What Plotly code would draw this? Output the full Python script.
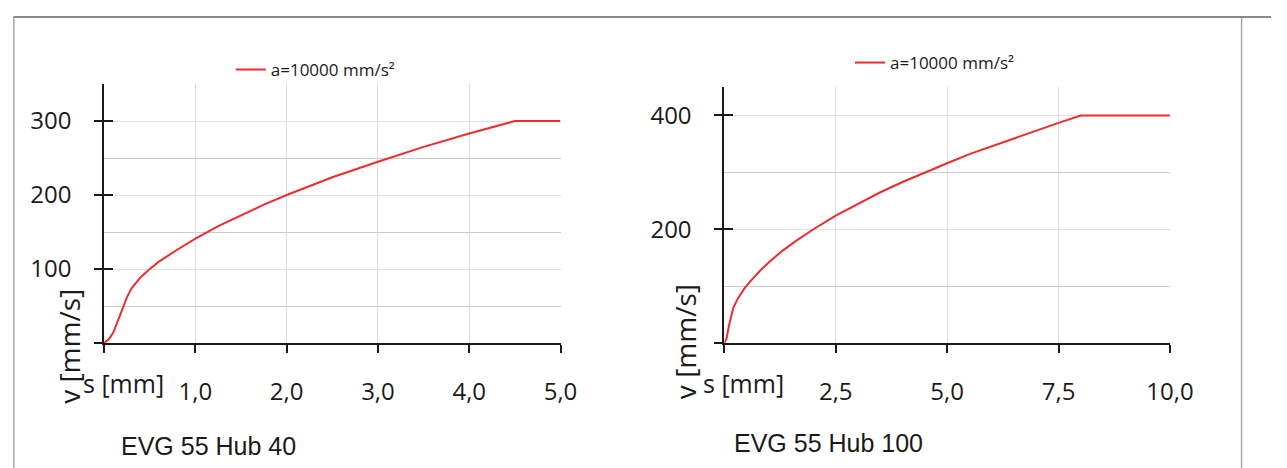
import plotly.graph_objects as go

W, H = 1287, 468

# ---- data ----
s_hub40 = [0, 0.05, 0.1, 0.15, 0.2, 0.25, 0.3, 0.4, 0.5, 0.6, 0.8, 1.0, 1.25, 1.5, 1.75,
           2.0, 2.5, 3.0, 3.5, 4.0, 4.5, 5.0]
v_hub40 = [0, 5, 14, 30, 48, 62, 74, 89, 100, 110, 126, 141, 158, 173, 187,
           200, 224, 245, 265, 283, 300, 300]

s_hub100 = [0, 0.05, 0.1, 0.2, 0.3, 0.45, 0.6, 0.8, 1.0, 1.3, 1.6, 2.0, 2.5, 3.0, 3.5,
            4.0, 4.5, 5.0, 5.5, 6.0, 6.5, 7.0, 7.5, 8.0, 10.0]
v_hub100 = [0, 8, 30, 62, 78, 96, 110, 127, 142, 162, 179, 200, 224, 245, 265,
            283, 300, 316, 332, 346, 360, 374, 387, 400, 400]

series_name = "a=10000 mm/s²"
titles = ["EVG 55 Hub 40", "EVG 55 Hub 100"]
x_title = "s [mm]"
y_title = "v [mm/s]"

x1_ticks = [0, 1, 2, 3, 4, 5]
x1_text = ["", "1,0", "2,0", "3,0", "4,0", "5,0"]
y1_ticks = [0, 100, 200, 300]
y1_text = ["", "100", "200", "300"]
y1_minor = [50, 150, 250, 350]
y1_range = [0, 350]

x2_ticks = [0, 2.5, 5, 7.5, 10]
x2_text = ["", "2,5", "5,0", "7,5", "10,0"]
y2_ticks = [0, 200, 400]
y2_text = ["", "200", "400"]
y2_minor = [100, 300]
y2_range = [0, 450]

RED = "#ef2b2f"
INK = "#1a1a1a"
FONT = "Open Sans"


def px(x):
    return x / W


def py(y):
    return 1 - y / H


fig = go.Figure()
fig.add_trace(go.Scatter(x=s_hub40, y=v_hub40, mode="lines", name=series_name,
                         line=dict(color=RED, width=2),
                         xaxis="x", yaxis="y", legend="legend"))
fig.add_trace(go.Scatter(x=s_hub100, y=v_hub100, mode="lines", name=series_name,
                         line=dict(color=RED, width=2),
                         xaxis="x2", yaxis="y2", legend="legend2"))
# invisible helpers so the tick-only overlay axes are drawn
fig.add_trace(go.Scatter(x=[s_hub40[0]], y=[v_hub40[0]], mode="markers",
                         marker=dict(opacity=0), xaxis="x", yaxis="y3",
                         showlegend=False, hoverinfo="skip"))
fig.add_trace(go.Scatter(x=[s_hub100[0]], y=[v_hub100[0]], mode="markers",
                         marker=dict(opacity=0), xaxis="x2", yaxis="y4",
                         showlegend=False, hoverinfo="skip"))

tickfont = dict(family=FONT, size=24, color=INK)

common_x = dict(showline=True, linecolor=INK, linewidth=2, ticks="outside",
                ticklen=8, tickwidth=2, tickcolor=INK, tickfont=tickfont,
                showgrid=True, gridcolor="#dedede", gridwidth=1, zeroline=False,
                ticklabelstandoff=18, fixedrange=True)
common_y = dict(showline=True, linecolor=INK, linewidth=2, ticks="outside",
                ticklen=8, tickwidth=2, tickcolor=INK, tickfont=tickfont,
                showgrid=True, gridcolor="#e2e2e2", gridwidth=1, zeroline=False,
                ticklabelstandoff=18, fixedrange=True)
inner_ticks = dict(side="left", tickmode="array", showticklabels=False,
                   ticks="inside", ticklen=9, tickwidth=2, tickcolor=INK,
                   showgrid=False, showline=False, zeroline=False, fixedrange=True)

fig.update_layout(
    width=W, height=H,
    margin=dict(l=0, r=0, t=0, b=0),
    paper_bgcolor="white", plot_bgcolor="white",
    font=dict(family=FONT, color=INK),
    xaxis=dict(domain=[px(98), px(563)], range=[0, 5], anchor="y",
               tickmode="array", tickvals=x1_ticks, ticktext=x1_text, **common_x),
    yaxis=dict(domain=[py(335), py(76)], range=y1_range, anchor="x",
               tickmode="array", tickvals=y1_ticks, ticktext=y1_text,
               minor=dict(tickvals=y1_minor, showgrid=True, gridcolor="#cdcdcd",
                          ticks=""),
               **common_y),
    yaxis3=dict(overlaying="y", anchor="x", range=y1_range, tickvals=y1_ticks,
                **inner_ticks),
    xaxis2=dict(domain=[px(730), px(1184)], range=[0, 10], anchor="y2",
                tickmode="array", tickvals=x2_ticks, ticktext=x2_text, **common_x),
    yaxis2=dict(domain=[py(335), py(79)], range=y2_range, anchor="x2",
                tickmode="array", tickvals=y2_ticks, ticktext=y2_text,
                minor=dict(tickvals=y2_minor, showgrid=True, gridcolor="#cdcdcd",
                           ticks=""),
                **common_y),
    yaxis4=dict(overlaying="y2", anchor="x2", range=y2_range, tickvals=y2_ticks,
                **inner_ticks),
    legend=dict(x=px(227), y=py(62), xanchor="left", yanchor="middle",
                font=dict(family=FONT, size=17, color=INK),
                bgcolor="rgba(0,0,0,0)", itemwidth=30, tracegroupgap=0),
    legend2=dict(x=px(858), y=py(55), xanchor="left", yanchor="middle",
                 font=dict(family=FONT, size=17, color=INK),
                 bgcolor="rgba(0,0,0,0)", itemwidth=30, tracegroupgap=0),
    showlegend=True,
)

annots = [
    dict(x=px(118), y=py(375), text=x_title, xanchor="center", yanchor="middle",
         font=dict(family=FONT, size=25)),
    dict(x=px(749), y=py(375), text=x_title, xanchor="center", yanchor="middle",
         font=dict(family=FONT, size=25)),
    dict(x=px(62), y=py(338), text=y_title, textangle=-90, xanchor="center",
         yanchor="middle", font=dict(family=FONT, size=28)),
    dict(x=px(690), y=py(334), text=y_title, textangle=-90, xanchor="center",
         yanchor="middle", font=dict(family=FONT, size=28)),
    dict(x=px(113), y=py(438), text=titles[0], xanchor="left", yanchor="middle",
         font=dict(family="Liberation Sans, Arial", size=25)),
    dict(x=px(738), y=py(435), text=titles[1], xanchor="left", yanchor="middle",
         font=dict(family="Liberation Sans, Arial", size=25)),
]
for a in annots:
    a.update(xref="paper", yref="paper", showarrow=False)
fig.update_layout(annotations=annots)

# decorative frame of the original figure
fig.update_layout(shapes=[
    dict(type="rect", xref="paper", yref="paper", x0=px(6), x1=px(1257),
         y0=py(464), y1=py(9), line=dict(color="#a8a8a8", width=1.5)),
    dict(type="line", xref="paper", yref="paper", x0=px(6), x1=1,
         y0=py(9), y1=py(9), line=dict(color="#8a8a8a", width=2)),
])

fig.write_html("out.html")
